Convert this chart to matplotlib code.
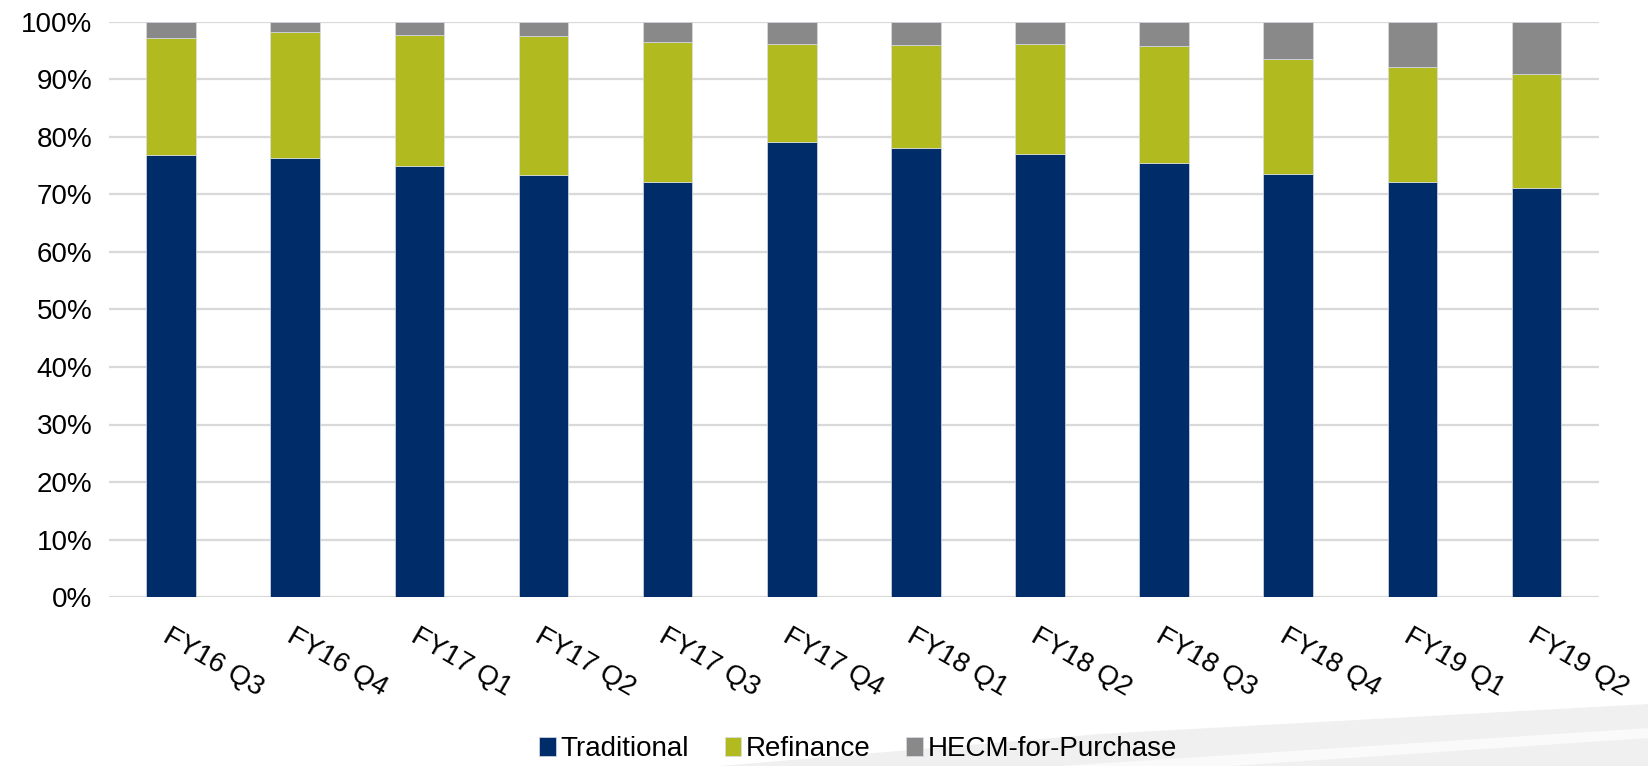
import numpy as np
import matplotlib
matplotlib.use("Agg")
import matplotlib.pyplot as plt
from matplotlib.patches import Polygon

plt.rcParams["font.family"] = ["Liberation Sans", "DejaVu Sans"]

# ── Data: share of HECM endorsements by type (%) ─────────────────────────────
quarters = ["FY16 Q3", "FY16 Q4", "FY17 Q1", "FY17 Q2", "FY17 Q3", "FY17 Q4",
            "FY18 Q1", "FY18 Q2", "FY18 Q3", "FY18 Q4", "FY19 Q1", "FY19 Q2"]
traditional = [76.9, 76.4, 75.0, 73.4, 72.1, 79.2, 78.1, 77.0, 75.4, 73.6, 72.2, 71.1]
refinance   = [20.4, 21.8, 22.8, 24.1, 24.5, 17.0, 17.9, 19.2, 20.4, 19.9, 20.0, 19.8]
purchase    = [2.7, 1.8, 2.2, 2.5, 3.4, 3.8, 4.0, 3.8, 4.2, 6.5, 7.8, 9.1]

series = [("Traditional", traditional, "#002D6A"),
          ("Refinance", refinance, "#B1BA1F"),
          ("HECM-for-Purchase", purchase, "#898989")]

W, H = 1649, 766
fig = plt.figure(figsize=(W / 100, H / 100), dpi=100)
fig.patch.set_facecolor("white")

# decorative swoosh in the lower-right corner
fig.add_artist(Polygon([(720 / W, 0), (1100 / W, 32 / H), (1649 / W, 62 / H), (1, 0)],
                       closed=True, transform=fig.transFigure,
                       facecolor="#f0f0f0", edgecolor="none", zorder=-2))
fig.add_artist(Polygon([(1060 / W, 0), (1649 / W, 38 / H), (1, 28 / H), (1230 / W, 0)],
                       closed=True, transform=fig.transFigure,
                       facecolor="#fafafa", edgecolor="none", zorder=-1))

ax = fig.add_axes([109 / W, 1 - 597 / H, (1598.6 - 109) / W, 575 / H])
ax.set_facecolor("none")

x = np.arange(len(quarters))
bottom = np.zeros(len(quarters))
for name, vals, color in series:
    ax.bar(x, vals, width=0.4, bottom=bottom, color=color, label=name,
           edgecolor="#d8dde6", linewidth=0.5, zorder=3)
    bottom += np.array(vals)

ax.set_xlim(-0.5, len(quarters) - 0.5)
ax.set_ylim(0, 100)
ax.set_yticks(np.arange(0, 101, 10))
ax.set_yticklabels([f"{v}%" for v in range(0, 101, 10)], fontsize=20)
ax.yaxis.grid(True, color="#d9d9d9", linewidth=1.6, zorder=0)
ax.set_axisbelow(True)
for s in ax.spines.values():
    s.set_visible(False)
ax.tick_params(axis="y", length=0, pad=12)
ax.tick_params(axis="x", length=0, pad=19)

ax.set_xticks(x)
ax.set_xticklabels(quarters, fontsize=20, rotation=-30, ha="left", va="top",
                   rotation_mode="anchor")

fig.legend(loc="center", bbox_to_anchor=(858 / W, 17 / H), ncol=3, frameon=False,
           fontsize=20, handlelength=0.6, handleheight=0.7, handletextpad=0.15,
           columnspacing=1.3, borderpad=0)

fig.savefig("out.png", dpi=100, facecolor="white")
